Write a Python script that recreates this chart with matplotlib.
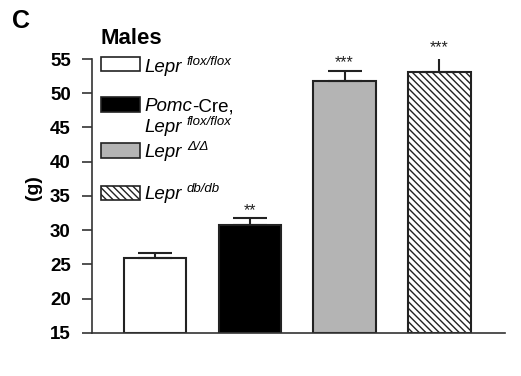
import matplotlib
matplotlib.use('Agg')
import matplotlib.pyplot as plt
from matplotlib.patches import Rectangle
from matplotlib.transforms import offset_copy

plt.rcParams['font.family'] = ['Liberation Sans', 'DejaVu Sans']
plt.rcParams['hatch.linewidth'] = 1.0
plt.rcParams['hatch.color'] = '#333333'

# data
groups = ['Lepr flox/flox', 'Pomc-Cre, Lepr flox/flox', 'Lepr D/D', 'Lepr db/db']
means = [25.9, 30.7, 51.8, 53.1]
errs = [0.8, 1.0, 1.5, 2.3]
stars = ['', '**', '***', '***']
colors = ['white', 'black', '#b4b4b4', 'white']
hatches = [None, None, None, '\\\\\\\\\\']
yticks = [15, 20, 25, 30, 35, 40, 45, 50, 55]

fig = plt.figure(figsize=(5.21, 3.76), dpi=100)
ax = fig.add_axes([0.176, 0.115, 0.793, 0.728])

x = list(range(len(means)))
for i in x:
    ax.bar(i, means[i] - 15, bottom=15, width=0.66, color=colors[i],
           edgecolor='#222222', linewidth=1.5, hatch=hatches[i], zorder=2)
    ax.errorbar(i, means[i], yerr=[[0], [errs[i]]], fmt='none', ecolor='#222222',
                elinewidth=1.5, capsize=12, capthick=1.5, zorder=3)
    if stars[i]:
        ax.text(i, means[i] + errs[i] + 0.1, stars[i], ha='center', va='bottom',
                fontsize=11.5, color='#222222')

ax.set_xlim(-0.668, 3.69)
ax.set_ylim(15, 55)
ax.set_yticks(yticks)
ax.set_yticklabels([str(t) for t in yticks], fontsize=13.5, fontweight='bold')
ax.set_xticks([])
ax.spines['top'].set_visible(False)
ax.spines['right'].set_visible(False)
for s in ['left', 'bottom']:
    ax.spines[s].set_linewidth(1.2)
    ax.spines[s].set_color('#333333')
ax.tick_params(axis='y', length=7, width=1.2, color='#333333', pad=8)

# legend drawn by hand: (face, hatch, patch centre, lines of (main, upright tail, superscript, baseline))
leg_items = [
    ('white', None, 0.982, [('Lepr', '', 'flox/flox', 0.952)]),
    ('black', None, 0.834, [('Pomc', '-Cre,', '', 0.810), ('Lepr', '', 'flox/flox', 0.733)]),
    ('#b4b4b4', None, 0.666, [('Lepr', '', '\u0394/\u0394', 0.642)]),
    ('white', '\\\\\\\\\\', 0.510, [('Lepr', '', 'db/db', 0.489)]),
]
fig.canvas.draw()
rend = fig.canvas.get_renderer()
for fc, h, yy, lines in leg_items:
    ax.add_patch(Rectangle((0.022, yy - 0.026), 0.094, 0.052, transform=ax.transAxes,
                           facecolor=fc, edgecolor='#222222', linewidth=1.2,
                           hatch=h, clip_on=False, zorder=4))
    for main, tail, sup, yb in lines:
        t = ax.text(0.128, yb, main, transform=ax.transAxes, fontsize=13.5,
                    style='italic', va='baseline', ha='left')
        w = t.get_window_extent(rend).width
        if tail:
            ax.text(0.128, yb, tail, fontsize=13.5, va='baseline', ha='left',
                    transform=offset_copy(ax.transAxes, fig, x=w, y=0, units='dots'))
        if sup:
            ax.text(0.128, yb, sup, fontsize=9.5, style='italic', va='baseline',
                    ha='left',
                    transform=offset_copy(ax.transAxes, fig, x=w + 5, y=7, units='dots'))

fig.text(0.065, 0.50, '(g)', rotation=90, fontsize=14, fontweight='bold',
         ha='center', va='center')
fig.text(0.040, 0.945, 'C', fontsize=18, fontweight='bold', ha='center', va='center')
fig.text(0.192, 0.898, 'Males', fontsize=16, fontweight='bold', ha='left', va='center')

fig.savefig('out.png', dpi=100)
